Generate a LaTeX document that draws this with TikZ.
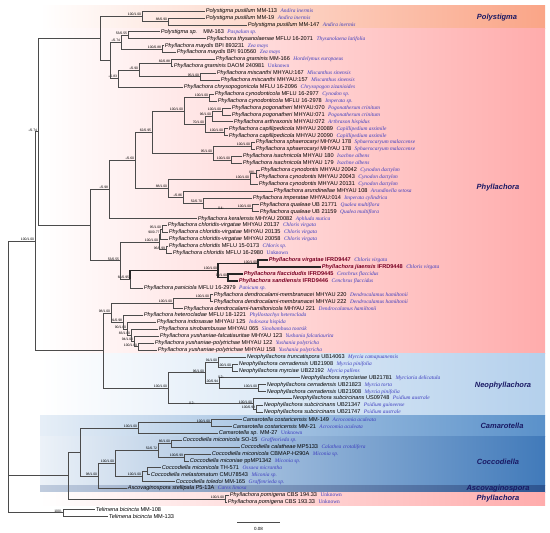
\documentclass[tikz,border=0pt]{standalone}
\usepackage{fontspec}
\setmainfont{Liberation Sans}
\newfontfamily\serf{Liberation Serif}
\usetikzlibrary{calc}
\definecolor{hostc}{RGB}{60,60,190}
\definecolor{newc}{RGB}{120,0,35}
\definecolor{navy}{RGB}{25,25,100}
\definecolor{brc}{RGB}{75,75,75}
\definecolor{phy}{RGB}{255,172,172}
\definecolor{poly}{RGB}{250,165,135}
\definecolor{neo}{RGB}{180,208,236}
\definecolor{cam}{RGB}{90,145,202}
\definecolor{coc}{RGB}{65,122,186}
\definecolor{asc}{RGB}{45,85,145}
\newcommand\hostf{\serf\itshape\color{hostc}\fontsize{5.4}{6}\selectfont}
\tikzset{
  tip/.style={anchor=west,inner sep=0.7pt,font=\fontsize{5.6}{6}\selectfont},
  newtip/.style={tip,text=newc,font=\fontsize{5.6}{6}\selectfont\bfseries},
  sup/.style={anchor=south east,inner sep=0.3pt,xshift=-0.4pt,font=\fontsize{3.4}{4}\selectfont},
  br/.style={draw=brc,line width=0.55pt},
  thk/.style={line width=1.3pt,draw=black!85},
  grp/.style={font=\fontsize{7.5}{8}\selectfont\bfseries\itshape,text=navy},
  brk/.style={font=\fontsize{3.6}{4}\selectfont}
}
\newcommand\tp[6]{\node[tip] (#1) at (#2,{-11-(#3-1)*6.92}) {\textit{#4} #5\hspace{3.5pt}{\hostf #6}};}
\newcommand\tpn[6]{\node[newtip] (#1) at (#2,{-11-(#3-1)*6.92}) {\textit{#4} #5\hspace{3.5pt}{\hostf\mdseries #6}};}
\newcommand\nd[6][]{%
  \coordinate (tmp) at ($(#4)!0.5!(#5)$);%
  \coordinate (#2) at (#3,0 |- tmp);%
  \draw[br,#1] (#2) |- (#4);%
  \draw[br,#1] (#2) |- (#5);%
  \node[sup] at (#2) {#6};}
\begin{document}
\begin{tikzpicture}[x=1pt,y=1pt]
\useasboundingbox (0,0) rectangle (550,-533);
% bands
\shade[left color=white,right color=poly] (40,-5) rectangle (545,-28.5);
\shade[left color=white,right color=phy] (40,-28.5) rectangle (545,-353.5);
\shade[left color=white,right color=neo] (40,-353.5) rectangle (545,-415.8);
\shade[left color=cam!15,right color=cam] (40,-415.8) rectangle (545,-436.6);
\shade[left color=coc!10,right color=coc] (40,-436.6) rectangle (545,-485);
\shade[left color=asc!30,right color=asc] (40,-485) rectangle (545,-492);
\shade[left color=white,right color=phy] (40,-492) rectangle (545,-505.5);
\node[grp] (gpoly) at (497,-18) {Polystigma};
\node[grp] (gphy) at (498,-188) {Phyllachora};
\node[grp] (gneo) at (503,-386) {Neophyllachora};
\node[grp] (gcam) at (502,-426) {Camarotella};
\node[grp] (gcoc) at (498,-462) {Coccodiella};
\node[grp] (gasc) at (498,-488.5) {Ascovaginospora};
\node[grp] (gpom) at (498,-499) {Phyllachora};
% tips
\tp{t1}{205}{1}{Polystigma pusillum}{MM-113}{Andira inermis}
\tp{t2}{205}{2}{Polystigma pusillum}{MM-19}{Andira inermis}
\tp{t3}{247}{3}{Polystigma pusillum}{MM-147}{Andira inermis}
\tp{t4}{160}{4}{Polystigma sp.}{\hspace{4pt}MM-163}{Paspalum sp.}
\tp{t5}{206}{5}{Phyllachora thysanolaenae}{MFLU 16-2071}{Thysanolaena latifolia}
\tp{t6}{164}{6}{Phyllachora maydis}{BPI 893231}{Zea mays}
\tp{t7}{176}{7}{Phyllachora maydis}{BPI 910560}{Zea mays}
\tp{t8}{215}{8}{Phyllachora graminis}{MM-166}{Hordelymus europaeus}
\tp{t9}{173}{9}{Phyllachora graminis}{DAOM 240981}{\upshape Unknown}
\tp{t10}{216}{10}{Phyllachora miscanthi}{MHYAU:167}{Miscanthus sinensis}
\tp{t11}{220}{11}{Phyllachora miscanthi}{MHYAU:157}{Miscanthus sinensis}
\tp{t12}{183}{12}{Phyllachora chrysopogonicola}{MFLU 16-2096}{Chrysopogon zizanioides}
\tp{t13}{214}{13}{Phyllachora cynodonticola}{MFLU 16-2977}{Cynodon sp.}
\tp{t14}{217}{14}{Phyllachora cynodonticola}{MFLU 16-2978}{Imperata sp.}
\tp{t15}{231}{15}{Phyllachora pogonatheri}{MHYAU:070}{Pogonatherum crinitum}
\tp{t16}{231}{16}{Phyllachora pogonatheri}{MHYAU:071}{Pogonatherum crinitum}
\tp{t17}{233}{17}{Phyllachora arthraxonis}{MHYAU:072}{Arthraxon hispidus}
\tp{t18}{228}{18}{Phyllachora capillipedicola}{MHYAU 20089}{Capillipedium assimile}
\tp{t19}{228}{19}{Phyllachora capillipedicola}{MHYAU 20090}{Capillipedium assimile}
\tp{t20}{255}{20}{Phyllachora sphaerocaryi}{MHYAU 178}{Sphaerocaryum malaccense}
\tp{t21}{255}{21}{Phyllachora sphaerocaryi}{MHYAU 178}{Sphaerocaryum malaccense}
\tp{t22}{242}{22}{Phyllachora isachnicola}{MHYAU 180}{Isachne albens}
\tp{t23}{242}{23}{Phyllachora isachnicola}{MHYAU 179}{Isachne albens}
\tp{t24}{260}{24}{Phyllachora cynodontis}{MHYAU 20042}{Cynodon dactylon}
\tp{t25}{258}{25}{Phyllachora cynodontis}{MHYAU 20043}{Cynodon dactylon}
\tp{t26}{258}{26}{Phyllachora cynodontis}{MHYAU 20131}{Cynodon dactylon}
\tp{t27}{273}{27}{Phyllachora arundinellae}{MHYAU 108}{Arundinella setosa}
\tp{t28}{252}{28}{Phyllachora imperatae}{MHYAU:014}{Imperata cylindrica}
\tp{t29}{259}{29}{Phyllachora qualeae}{UB 21771}{Qualea multiflora}
\tp{t30}{259}{30}{Phyllachora qualeae}{UB 21159}{Qualea multiflora}
\tp{t31}{197}{31}{Phyllachora keralensis}{MHYAU 20082}{Aphluda mutica}
\tp{t32}{167}{32}{Phyllachora chloridis-virgatae}{MHYAU 20137}{Chloris virgata}
\tp{t33}{168}{33}{Phyllachora chloridis-virgatae}{MHYAU 20135}{Chloris virgata}
\tp{t34}{168}{34}{Phyllachora chloridis-virgatae}{MHYAU 20058}{Chloris virgata}
\tp{t35}{168}{35}{Phyllachora chloridis}{MFLU 15-0173}{Chloris sp.}
\tp{t36}{172}{36}{Phyllachora chloridis}{MFLU 16-2980}{\upshape Unknown}
\tpn{t37}{268}{37}{Phyllachora virgatae}{IFRD9447}{Chloris virgata}
\tpn{t38}{321}{38}{Phyllachora jiaensis}{IFRD9448}{Chloris virgata}
\tpn{t39}{243}{39}{Phyllachora flaccidudis}{IFRD9445}{Cenchrus flaccidus}
\tpn{t40}{238}{40}{Phyllachora sandiensis}{IFRD9446}{Cenchrus flaccidus}
\tp{t41}{143}{41}{Phyllachora paniciola}{MFLU 16-2979}{Panicum sp.}
\tp{t42}{213}{42}{Phyllachora dendrocalami-membranacei}{MHYAU 220}{Dendrocalamus hamiltonii}
\tp{t43}{213}{43}{Phyllachora dendrocalami-membranacei}{MHYAU 222}{Dendrocalamus hamiltonii}
\tp{t44}{183}{44}{Phyllachora dendrocalami-hamiltonicola}{MHYAU 221}{Dendrocalamus hamiltonii}
\tp{t45}{143}{45}{Phyllachora heterocladae}{MFLU 18-1221}{Phyllostachys heteroclada}
\tp{t46}{156}{46}{Phyllachora indosasae}{MHYAU 125}{Indosasa hispida}
\tp{t47}{158}{47}{Phyllachora sinobambusae}{MHYAU 065}{Sinobambusa tootsik}
\tp{t48}{159}{48}{Phyllachora yushaniae-falcatiauritae}{MHYAU 123}{Yushania falcatiaurita}
\tp{t49}{154}{49}{Phyllachora yushaniae-polytrichae}{MHYAU 122}{Yushania polytricha}
\tp{t50}{157}{50}{Phyllachora yushaniae-polytrichae}{MHYAU 158}{Yushania polytricha}
\tp{t51}{246}{51}{Neophyllachora truncatispora}{UB14063}{Myrcia camapuanensis}
\tp{t52}{238}{52}{Neophyllachora cerradensis}{UB21908}{Myrcia pinifolia}
\tp{t53}{238}{53}{Neophyllachora myrciae}{UB22192}{Myrcia pallens}
\tp{t54}{300}{54}{Neophyllachora myrciariae}{UB21781}{Myrciaria delicatula}
\tp{t55}{266}{55}{Neophyllachora cerradensis}{UB21823}{Myrcia torta}
\tp{t56}{266}{56}{Neophyllachora cerradensis}{UB21908}{Myrcia pinifolia}
\tp{t57}{292}{57}{Neophyllachora subcircinans}{US09748}{Psidium australe}
\tp{t58}{263}{58}{Neophyllachora subcircinans}{UB21347}{Psidium guineense}
\tp{t59}{263}{59}{Neophyllachora subcircinans}{UB21747}{Psidium australe}
\tp{t60}{242}{60}{Camarotella costaricensis}{MM-149}{Acrocomia aculeata}
\tp{t61}{232}{61}{Camarotella costaricensis}{MM-21}{Acrocomia aculeata}
\tp{t62}{218}{62}{Camarotella sp.}{MM-27}{\upshape Unknown}
\tp{t63}{182}{63}{Coccodiella miconicola}{SO-15}{Graffenrieda sp.}
\tp{t64}{240}{64}{Coccodiella calatheae}{MP5133}{Calathea crotalifera}
\tp{t65}{211}{65}{Coccodiella miconicola}{CBMAP-H290A}{Miconia sp.}
\tp{t66}{189}{66}{Coccodiella miconiae}{ppMP1342}{Miconia sp.}
\tp{t67}{161}{67}{Coccodiella miconicola}{TH-571}{Ossaea micrantha}
\tp{t68}{150}{68}{Coccodiella melastomatum}{CMU78543}{Miconia sp.}
\tp{t69}{175}{69}{Coccodiella toledoi}{MM-165}{Graffenrieda sp.}
\tp{t70}{127}{70}{Ascovaginospora stellipala}{P5-13A}{Carex limosa}
\tp{t71}{229}{71}{Phyllachora pomigena}{CBS 194.33}{\upshape Unknown}
\tp{t72}{227}{72}{Phyllachora pomigena}{CBS 193.33}{\upshape Unknown}
\node[tip] (t73) at (95,{-11-72*6.92}) {\textit{Telimena bicincta} MM-108};
\node[tip] (t74) at (108,{-11-73*6.92}) {\textit{Telimena bicincta} MM-133};
% internal nodes: Polystigma and relatives
\nd{n1}{168}{t2}{t3}{88/0.90}
\nd{n2}{142}{t1}{n1}{100/1.00}
\nd{n3}{128}{t4}{t5}{53/0.55}
\nd{n4}{162}{t6}{t7}{100/0.88}
\nd{n5}{121}{n3}{n4}{-/0.74}
\nd{n7}{171}{t8}{t9}{82/0.88}
\nd{n6}{200}{t10}{t11}{95/1.00}
\nd{n8}{139}{n7}{n6}{-/0.90}
\nd{n8b}{118}{n8}{t12}{-/0.83}
\nd{n5b}{110}{n5}{n8b}{}
\nd{nG1}{100}{n2}{n5b}{}
% grass clade
\nd{n9}{209}{t13}{t14}{100/1.00}
\nd{n10}{222}{t15}{t16}{100/1.00}
\nd{n11}{212}{n10}{t17}{96/1.00}
\nd{n12}{224}{t18}{t19}{100/1.00}
\nd{n13}{205}{n11}{n12}{70/1.00}
\nd{n14}{184}{n9}{n13}{100/1.00}
\nd{n15}{251}{t20}{t21}{100/1.00}
\nd{n16}{231}{t22}{t23}{100/1.00}
\nd{n17}{213}{n15}{n16}{95/1.00}
\nd{n18}{152}{n14}{n17}{62/0.95}
\nd{n19}{256}{t24}{t25}{88/-}
\nd{n20}{250}{n19}{t26}{100/1.00}
\nd{n22}{252}{t29}{t30}{100/1.00}
\nd{n23}{203}{t28}{n22}{52/0.70}
\nd{n24}{183}{t27}{n23}{-/0.86}
\nd{n25}{168}{n20}{n24}{88/1.00}
\nd{n26}{135}{n18}{n25}{-/0.60}
\nd{n27}{109}{n26}{t31}{-/0.98}
% Chloris and new species
\nd{n28}{162}{t32}{t33}{95/1.00}
\nd{n29}{160.5}{n28}{t34}{90/0.77}
\nd{n30}{166}{t35}{t36}{96/0.99}
\nd{n31}{159}{n29}{n30}{100/1.00}
\nd[thk]{n32}{258}{t37}{t38}{100/1.00}
\nd[thk]{n33}{228}{t39}{t40}{99/1.00}
\nd[thk]{n34}{218}{n32}{n33}{100/1.00}
\coordinate (tmp) at ($(n34)!0.5!(t41)$);
\coordinate (n36) at (130,0 |- tmp);
\draw[br,thk] (n36) |- (n34);
\draw[br] (n36) |- (t41);
\node[sup] at (n36) {68/0.95};
\nd{n35}{120}{n31}{n36}{53/0.55}
\nd{nGC}{90}{n27}{n35}{}
\nd{nP}{38}{nG1}{nGC}{-/0.74}
% bamboo clade
\nd{n37}{210}{t42}{t43}{100/1.00}
\nd{n38}{173}{n37}{t44}{100/1.00}
\nd{n39}{138}{t49}{t50}{100/1.00}
\nd{n40}{134}{t48}{n39}{94/1.00}
\nd{n41}{131}{t47}{n40}{83/1.00}
\nd{n42}{127}{t46}{n41}{90/1.00}
\nd{n43}{123}{t45}{n42}{91/0.98}
\nd{n44}{111}{n38}{n43}{98/1.00}
% Neophyllachora
\nd{n45}{232}{t52}{t53}{100/1.00}
\nd{n46}{218}{t51}{n45}{91/1.00}
\nd{n47}{258}{t55}{t56}{100/1.00}
\nd{n48}{219}{t54}{n47}{100/0.94}
\nd{n49}{205}{n46}{n48}{96/1.00}
\nd{n50}{256}{t58}{t59}{100/0.98}
\nd{n51}{253}{t57}{n50}{100/1.00}
\nd{n52}{168}{n49}{n51}{100/1.00}
\nd{n64}{103}{n44}{n52}{}
\nd{nIn}{35}{nP}{n64}{100/1.00}
% Camarotella, Coccodiella, Ascovaginospora, P. pomigena
\nd{n53}{211}{t60}{t61}{100/1.00}
\nd{n54}{138}{n53}{t62}{100/1.00}
\nd{n55}{171}{t63}{t64}{86/1.00}
\nd{n56}{184}{t65}{t66}{100/0.99}
\nd{n57}{158}{n55}{n56}{52/0.72}
\nd{n58}{147}{t67}{t68}{}
\nd{n59}{142}{n58}{t69}{100/1.00}
\nd{n60}{115}{n57}{n59}{100/1.00}
\nd{n61}{98}{n60}{t70}{98/1.00}
\nd{n62}{80}{n54}{n61}{}
\nd{pg}{225}{t71}{t72}{100/1.00}
\nd{n65}{68}{n62}{pg}{}
\nd{tel}{63}{t73}{t74}{100/-}
% basal trichotomy
\coordinate (root) at (8,0 |- nIn);
\draw[br] (root) |- (nIn);
\draw[br] (root) |- (n65);
\draw[br] (root) |- (tel);
% branch breaks
\node[brk] (bk1) at (221,-208.5) {//\,4-};
\node[brk] (bk2) at (221,-377.7) {//\,2-};
\node[brk] (bk3) at (192,-403.6) {//\,2-};
% scale bar
\coordinate (sb1) at (237,-522);
\coordinate (sb2) at (280,-522);
\draw[br] (sb1) -- (sb2);
\node[font=\fontsize{4.5}{5}\selectfont] (sbl) at (258.5,-529) {0.08};
\end{tikzpicture}
\end{document}
